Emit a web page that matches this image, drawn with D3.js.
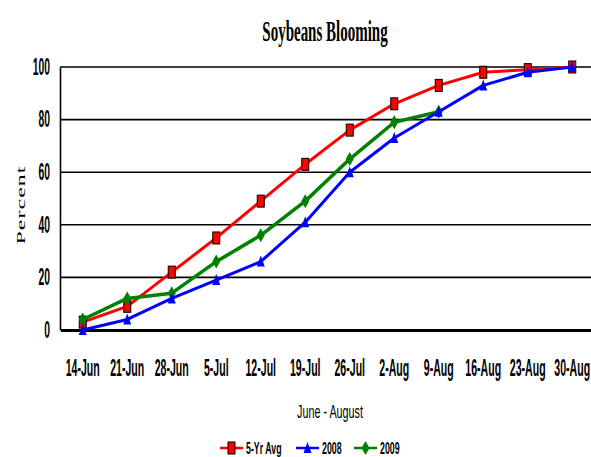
<!DOCTYPE html>
<html>
<head>
<meta charset="utf-8" />
<title>Soybeans Blooming</title>
<script type="text/javascript" src="https://d3js.org/d3.v7.min.js"></script>
<style>
  body { margin: 0; background: #fff; }
  svg { display: block; }
  .tick text { font-family: "Liberation Sans", Arial, sans-serif; font-weight: bold; font-size: 23px; fill: #000; }
</style>
</head>
<body>
<script type="text/javascript">
// data
var weeks = ["14-Jun", "21-Jun", "28-Jun", "5-Jul", "12-Jul", "19-Jul", "26-Jul", "2-Aug", "9-Aug", "16-Aug", "23-Aug", "30-Aug"];
var avg5 = [3, 9, 22, 35, 49, 63, 76, 86, 93, 98, 99, 100];
var y2008 = [0, 4, 12, 19, 26, 41, 60, 73, 83, 93, 98, 100];
var y2009 = [4, 12, 14, 26, 36, 49, 65, 79, 83];
var yTicks = [0, 20, 40, 60, 80, 100];
var seriesNames = ["5-Yr Avg", "2008", "2009"];

var W = 591, H = 457;
var plotLeft = 60, plotTop = 67, plotBottom = 330;
var step = 44.5;
var k = 0.45; // the original picture is narrowed, text is squeezed by this

var svg = d3.select("body").append("svg")
    .attr("width", W)
    .attr("height", H);

var x = d3.scaleBand().domain(weeks).range([plotLeft + 0.5, plotLeft + 0.5 + step * weeks.length]);
var y = d3.scaleLinear().domain([0, 100]).range([plotBottom, plotTop]);
var cx = function(d) { return x(d) + x.bandwidth() / 2; };

// gridlines
svg.append("g").selectAll("line")
    .data(yTicks.filter(function(d) { return d > 0; }))
    .enter().append("line")
    .attr("x1", plotLeft).attr("x2", W + 10)
    .attr("y1", function(d) { return y(d); })
    .attr("y2", function(d) { return y(d); })
    .attr("stroke", "#000")
    .attr("stroke-width", 1.6);

// y axis
var gy = svg.append("g")
    .attr("transform", "translate(" + plotLeft + ",0)")
    .call(d3.axisLeft(y).tickValues(yTicks).tickSize(0).tickPadding(10));
gy.select(".domain").attr("stroke", "#000").attr("stroke-width", 1.6);
gy.selectAll(".tick text")
    .attr("x", -10 / k)
    .attr("transform", "scale(" + k + ",1)");

// x axis
var gx = svg.append("g")
    .attr("transform", "translate(0," + plotBottom + ")")
    .call(d3.axisBottom(x).tickSize(0).tickPadding(30));
gx.select(".domain").attr("stroke", "#000").attr("stroke-width", 3);
gx.selectAll(".tick text")
    .attr("transform", "scale(" + (k + 0.01) + ",1)");

// title
svg.append("text")
    .attr("transform", "translate(325,41) scale(0.5,1)")
    .attr("text-anchor", "middle")
    .style("font-family", "'Liberation Serif', 'Times New Roman', serif")
    .style("font-weight", "bold")
    .style("font-size", "30px")
    .text("Soybeans Blooming");

// y label
svg.append("text")
    .attr("transform", "translate(25,205) rotate(-90) scale(1,0.5)")
    .attr("text-anchor", "middle")
    .style("font-family", "'Liberation Serif', 'Times New Roman', serif")
    .style("font-size", "24px")
    .style("letter-spacing", "1px")
    .text("Percent");

// x label
svg.append("text")
    .attr("transform", "translate(330,418) scale(0.6,1)")
    .attr("text-anchor", "middle")
    .style("font-family", "'Liberation Sans', Arial, sans-serif")
    .style("font-size", "18px")
    .text("June - August");

// markers
function square(g) {
    g.append("rect").attr("x", -3.5).attr("y", -6).attr("width", 7).attr("height", 12)
        .attr("fill", "#ff0000").attr("stroke", "#000").attr("stroke-width", 1);
}
function triangle(g) {
    g.append("path").attr("d", "M0,-6L4,5L-4,5Z").attr("fill", "#0000ff");
}
function diamond(g) {
    g.append("path").attr("d", "M0,-7L4,0L0,7L-4,0Z").attr("fill", "#008000");
}

var series = [
    { name: seriesNames[0], values: avg5, color: "#ff0000", width: 3, marker: square },
    { name: seriesNames[2], values: y2009, color: "#008000", width: 3.5, marker: diamond },
    { name: seriesNames[1], values: y2008, color: "#0000ff", width: 3, marker: triangle }
];

var line = d3.line()
    .x(function(d, i) { return cx(weeks[i]); })
    .y(function(d) { return y(d); });

series.forEach(function(s) {
    svg.append("path")
        .datum(s.values)
        .attr("fill", "none")
        .attr("stroke", s.color)
        .attr("stroke-width", s.width)
        .attr("stroke-linejoin", "round")
        .attr("d", line);
    s.values.forEach(function(v, i) {
        var g = svg.append("g").attr("transform", "translate(" + cx(weeks[i]) + "," + y(v) + ")");
        s.marker(g);
    });
});

// legend
var legendItems = [
    { name: seriesNames[0], color: "#ff0000", marker: square, x: 220 },
    { name: seriesNames[1], color: "#0000ff", marker: triangle, x: 296 },
    { name: seriesNames[2], color: "#008000", marker: diamond, x: 354 }
];
legendItems.forEach(function(l) {
    var g = svg.append("g").attr("transform", "translate(" + l.x + ",448)");
    g.append("line").attr("x1", 0).attr("x2", 23).attr("y1", 0).attr("y2", 0)
        .attr("stroke", l.color).attr("stroke-width", 2.5);
    var m = g.append("g").attr("transform", "translate(11.5,0)");
    l.marker(m);
    g.append("text")
        .attr("transform", "translate(26,6) scale(0.55,1)")
        .style("font-family", "'Liberation Sans', Arial, sans-serif")
        .style("font-weight", "bold")
        .style("font-size", "16px")
        .text(l.name);
});
</script>
</body>
</html>
